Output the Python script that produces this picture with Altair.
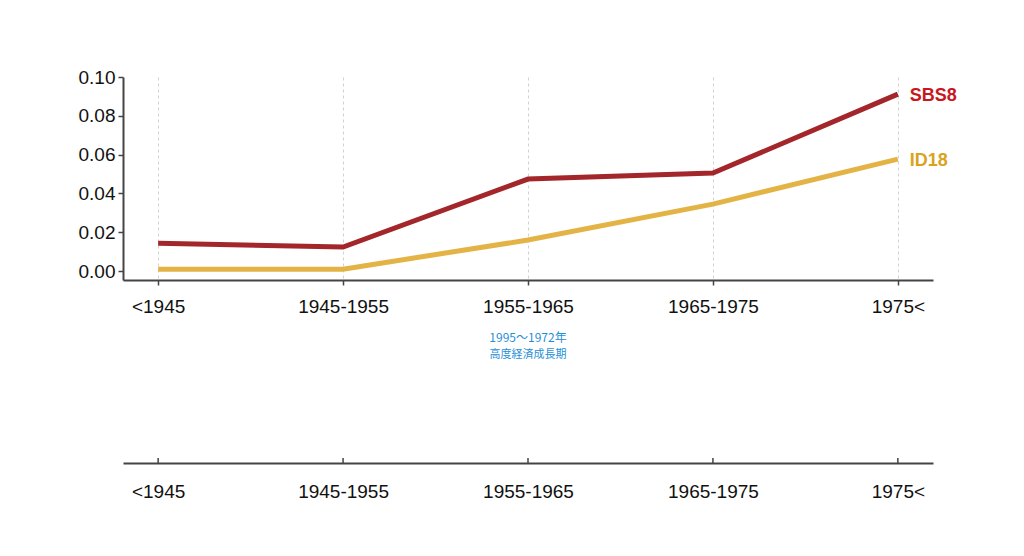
import altair as alt
import pandas as pd

periods = ["<1945", "1945-1955", "1955-1965", "1965-1975", "1975<"]
sbs8 = [0.0144, 0.0124, 0.0474, 0.0505, 0.0912]
id18 = [0.0010, 0.0010, 0.0160, 0.0345, 0.0577]
series_names = ["SBS8", "ID18"]
line_colors = ["#a3262a", "#e3b445"]
label_colors = ["#c8161e", "#dba21b"]
y_ticks = [0.0, 0.02, 0.04, 0.06, 0.08, 0.10]
era_lines = ["1995～1972年", "高度経済成長期"]

rows = []
for name, vals in zip(series_names, [sbs8, id18]):
    for p, v in zip(periods, vals):
        rows.append({"period": p, "value": v, "series": name})
df = pd.DataFrame(rows)
last = df[df["period"] == periods[-1]]

FONT = "Liberation Sans, Arial, sans-serif"
FS = 19

xscale = alt.Scale(type="point", domain=periods, padding=0.19)
yscale = alt.Scale(domain=[-0.0046, 0.10], nice=False, zero=False)

x_top = alt.X("period:N", sort=periods, scale=xscale, title=None,
              axis=alt.Axis(labelAngle=0, grid=True, gridDash=[3, 3], gridColor="#d2d2d2",
                            gridWidth=1, domainColor="#444444", domainWidth=2,
                            tickColor="#444444", tickSize=5, tickWidth=1.5,
                            labelPadding=12, labelFontSize=FS, labelColor="#111111",
                            labelFont=FONT))
y_top = alt.Y("value:Q", scale=yscale, title=None,
              axis=alt.Axis(values=y_ticks, format=".2f", grid=False, domainColor="#444444",
                            domainWidth=2, tickColor="#444444", tickSize=5, tickWidth=1.5,
                            labelPadding=3, labelFontSize=FS, labelColor="#111111",
                            labelFont=FONT))
color = alt.Color("series:N", scale=alt.Scale(domain=series_names, range=line_colors), legend=None)

lines = alt.Chart(df).mark_line(strokeWidth=5, strokeCap="butt").encode(
    x=x_top, y=y_top, color=color, order=alt.Order("series:N"))

labels = alt.Chart(last).mark_text(align="left", baseline="middle", dx=12, dy=2, fontSize=18,
                                   fontWeight="bold", font=FONT).encode(
    x=alt.X("period:N", sort=periods, scale=xscale),
    y=alt.Y("value:Q", scale=yscale),
    text="series:N",
    color=alt.Color("series:N", scale=alt.Scale(domain=series_names, range=label_colors), legend=None),
)

top = alt.layer(lines, labels).resolve_scale(color="independent").properties(width=810, height=203)

tick_df = pd.DataFrame({"period": periods})
era_df = pd.DataFrame({"period": [periods[2]], "l1": [era_lines[0]], "l2": [era_lines[1]]})

H = 183
x_bot = alt.X("period:N", sort=periods, scale=xscale, title=None,
              axis=alt.Axis(labelAngle=0, grid=False, ticks=False, domainColor="#444444",
                            domainWidth=2, labelPadding=19, labelFontSize=FS,
                            labelColor="#111111", labelFont=FONT))
bticks = alt.Chart(tick_df).mark_rule(color="#444444", strokeWidth=1.5).encode(
    x=x_bot, y=alt.value(H - 5), y2=alt.value(H))
t1 = alt.Chart(era_df).mark_text(fontSize=12, color="#1f8fd6", font="Noto Sans CJK JP").encode(
    x=alt.X("period:N", sort=periods, scale=xscale), y=alt.value(58), text="l1:N")
t2 = alt.Chart(era_df).mark_text(fontSize=11, color="#1f8fd6", font="Noto Sans CJK JP").encode(
    x=alt.X("period:N", sort=periods, scale=xscale), y=alt.value(75), text="l2:N")
bottom = alt.layer(bticks, t1, t2).properties(width=810, height=H)

chart = alt.vconcat(top, bottom, spacing=0, bounds="flush").properties(
    padding={"top": 60, "left": 70, "right": 5, "bottom": 5},
    background="white",
).configure_view(stroke=None, strokeWidth=0)

chart.save("out.html", embed_options={"renderer": "svg", "actions": False})
